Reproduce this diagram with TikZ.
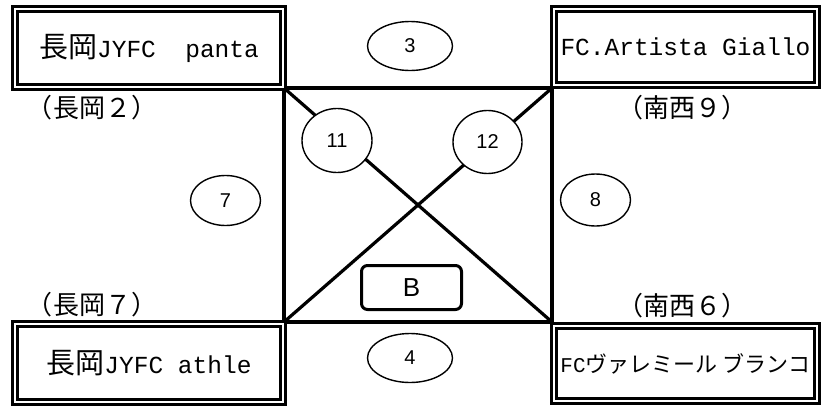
\documentclass[tikz,border=0pt]{standalone}
\usepackage{fontspec}
\usetikzlibrary{shapes.geometric}
\newfontfamily\jpf{Noto Sans CJK JP}
\newfontfamily\monof{Liberation Mono}
\newfontfamily\sansf{Liberation Sans}
\tikzset{
  teambox/.style={draw, double, line width=2.8pt, double distance=2.2pt, fill=white, inner sep=0pt, rectangle},
  court/.style={line width=3.2pt},
  numov/.style={ellipse, draw, line width=1.4pt, fill=white, inner sep=0pt, font=\sansf\fontsize{20}{20}\selectfont},
  lbl/.style={inner sep=0pt, font=\jpf\fontsize{26}{26}\selectfont},
  bbox/.style={draw, line width=3pt, rounded corners=6pt, fill=white, inner sep=0pt, minimum width=100pt, minimum height=44pt, font=\sansf\fontsize{26}{26}\selectfont}
}
\begin{document}
\begin{tikzpicture}[x=1pt,y=-1pt]
\useasboundingbox (0,0) rectangle (824,407);
\coordinate (c1) at (284,88);
\coordinate (c2) at (552,88);
\coordinate (c3) at (284,322);
\coordinate (c4) at (552,322);
\draw[court] (c1) -- (c2);
\draw[court] (c3) -- (c4);
\draw[court] (c1) -- (c3);
\draw[court] (c2) -- (c4);
\draw[court] (c1) -- (c4);
\draw[court] (c2) -- (c3);
% team boxes
\node[teambox, minimum width=268.2pt, minimum height=78.2pt] (tl) at (149,48)
  {{\jpf\fontsize{29}{29}\selectfont 長岡}{\monof\fontsize{24.5}{24.5}\selectfont JYFC\ \ panta}};
\node[teambox, minimum width=263.2pt, minimum height=76.2pt] (tr) at (685.5,47)
  {{\monof\fontsize{24.5}{24.5}\selectfont FC.Artista Giallo}};
\node[teambox, minimum width=268.2pt, minimum height=78.2pt] (bl) at (149,363)
  {{\jpf\fontsize{29}{29}\selectfont 長岡}{\monof\fontsize{24.5}{24.5}\selectfont JYFC athle}};
\node[teambox, minimum width=263.2pt, minimum height=75.2pt] (br) at (685.5,363.5)
  {{\monof\fontsize{21}{21}\selectfont FC}{\jpf\fontsize{22}{22}\selectfont ヴァレミール ブランコ}};
% labels
\node[lbl] (l1) at (92,108) {（長岡２）};
\node[lbl] (l2) at (682.5,108) {（南西９）};
\node[lbl] (l3) at (92,305) {（長岡７）};
\node[lbl] (l4) at (682.5,306) {（南西６）};
% ellipses
\node[numov, minimum width=85pt, minimum height=49pt] (e3) at (410,46) {3};
\node[numov, minimum width=85pt, minimum height=49pt] (e4) at (410,358) {4};
\node[numov, minimum width=70pt, minimum height=50pt] (e7) at (225.5,200.5) {7};
\node[numov, minimum width=70pt, minimum height=52pt] (e8) at (595.5,200) {8};
\node[numov, minimum width=70pt, minimum height=64pt] (e11) at (337,140.5) {11};
\node[numov, minimum width=69pt, minimum height=63pt] (e12) at (487.5,142) {12};
\node[bbox] (b) at (411.5,287.5) {B};
\end{tikzpicture}
\end{document}
